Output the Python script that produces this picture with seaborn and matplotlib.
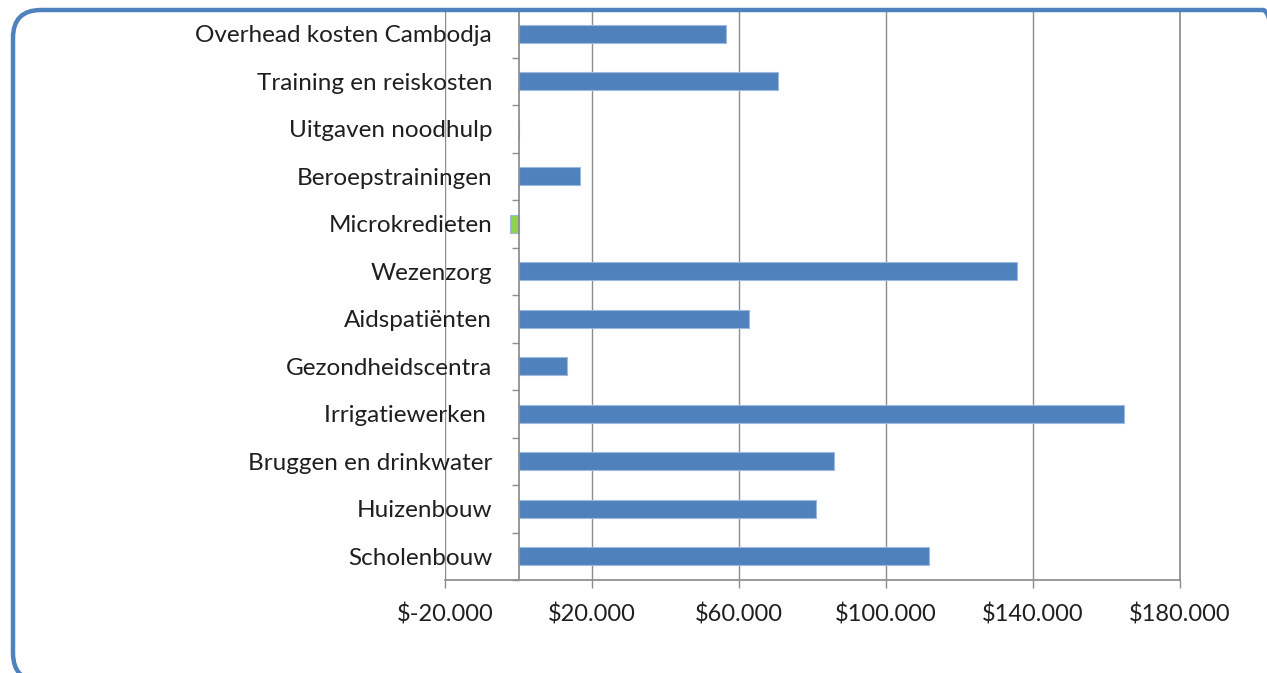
import numpy as np
import pandas as pd
import matplotlib
matplotlib.use('Agg')
import matplotlib.pyplot as plt
import seaborn as sns
from matplotlib.patches import FancyBboxPatch
from matplotlib.ticker import FixedLocator

# ==========================================
# Data
# ==========================================
categories = [
    'Overhead kosten Cambodja', 'Training en reiskosten', 'Uitgaven noodhulp',
    'Beroepstrainingen', 'Microkredieten', 'Wezenzorg', 'Aidspatiënten',
    'Gezondheidscentra', 'Irrigatiewerken ', 'Bruggen en drinkwater',
    'Huizenbouw', 'Scholenbouw',
]
amounts = [56500, 70600, 0, 16800, -2300, 135600, 62800, 13300, 164700, 85900, 81000, 111700]
bar_colors = ['#4F81BD', '#4F81BD', '#4F81BD', '#4F81BD', '#92D050', '#4F81BD',
              '#4F81BD', '#4F81BD', '#4F81BD', '#4F81BD', '#4F81BD', '#4F81BD']
x_ticks = [-20000, 20000, 60000, 100000, 140000, 180000]
x_tick_labels = ['$-20.000', '$20.000', '$60.000', '$100.000', '$140.000', '$180.000']

df = pd.DataFrame({'Categorie': categories, 'Bedrag': amounts})

# ==========================================
# Plot
# ==========================================
sns.set_theme(style='white')
plt.rcParams['font.family'] = ['Lato', 'DejaVu Sans']

fig = plt.figure(figsize=(12.67, 6.73), dpi=100)
ax = fig.add_axes([445 / 1267, 1 - 580 / 673, (1180 - 445) / 1267, (580 - 10) / 673])

sns.barplot(data=df, x='Bedrag', y='Categorie', hue='Categorie',
            palette=dict(zip(categories, bar_colors)), legend=False, saturation=1,
            width=0.38, orient='h', edgecolor='#9DB9E0', linewidth=0.8, ax=ax)

grid_col = '#8C8C8C'
ax.set_xlim(-20000, 180000)
ax.set_ylim(len(categories) - 0.5, -0.5)
ax.set_xticks(x_ticks)
ax.set_xticklabels(x_tick_labels, fontsize=17, color='#1F1F1F')
ax.xaxis.grid(True, color=grid_col, linewidth=1.0)
ax.set_axisbelow(True)

# vertical axis at zero, labels next to it
ax.spines['top'].set_visible(False)
ax.spines['right'].set_color(grid_col)
ax.spines['left'].set_position(('data', 0))
ax.spines['left'].set_color(grid_col)
ax.spines['bottom'].set_color(grid_col)
ax.spines['left'].set_zorder(3)

ax.tick_params(axis='y', which='major', length=0, pad=19, labelsize=17.5, labelcolor='#1F1F1F')
ax.yaxis.set_minor_locator(FixedLocator(np.arange(-0.5, len(categories), 1.0)))
ax.tick_params(axis='y', which='minor', left=True, length=5, width=1, color=grid_col)
ax.tick_params(axis='x', which='major', bottom=True, length=6, width=1, color=grid_col, pad=11)
ax.set_xlabel('')
ax.set_ylabel('')

# rounded chart border
border = FancyBboxPatch((0.13, -0.08), 12.78, 6.71,
                        boxstyle='round,pad=0,rounding_size=0.28',
                        transform=fig.dpi_scale_trans, fill=False,
                        edgecolor='#4F81BD', linewidth=3.2, zorder=10)
fig.patches.append(border)

fig.savefig('out.png', dpi=100)
